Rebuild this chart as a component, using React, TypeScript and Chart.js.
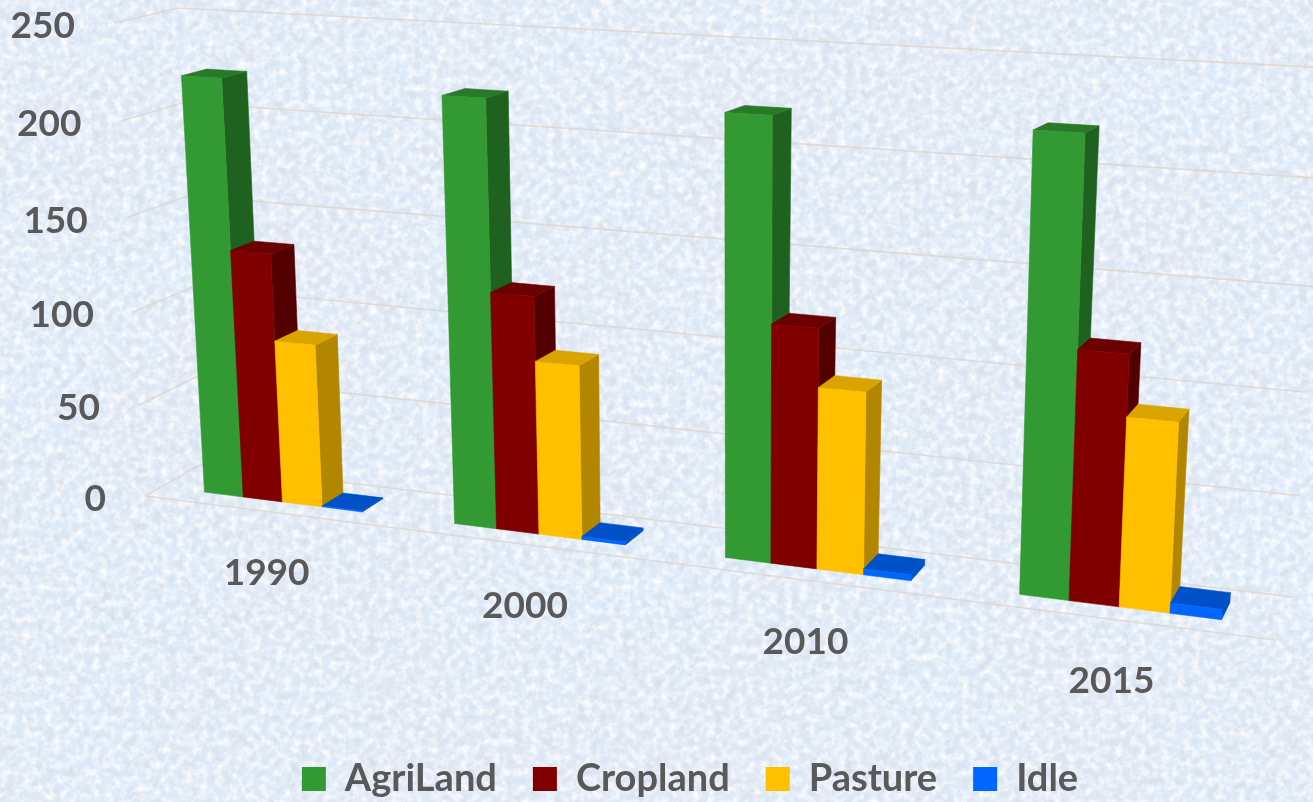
import React, { useEffect, useRef } from "react";
import { Chart, registerables } from "chart.js";

Chart.register(...registerables);

const years = ["1990", "2000", "2010", "2015"];
const agriLand = [222, 220, 220, 220.5];
const cropland = [133, 123, 120, 121];
const pasture = [87, 90, 91, 91.5];
const idle = [0.5, 1.5, 3, 5];
const axisMax = 250;
const axisStep = 50;

const seriesNames = ["AgriLand", "Cropland", "Pasture", "Idle"];
const frontColors = ["#339933", "#800000", "#FFC000", "#0066FF"];
const sideColors = ["#1F611F", "#520000", "#B38600", "#0050C8"];
const topColors = ["#287A28", "#6B0000", "#D9A300", "#0050C8"];
const textColor = "#595959";
const gridColor = "rgba(222,212,204,0.8)";
const fontFamily = "Lato, 'Open Sans', sans-serif";

type Pt = [number, number];
function homography(p0: Pt, p1: Pt, p2: Pt, p3: Pt) {
  const dx1 = p1[0] - p2[0], dx2 = p3[0] - p2[0], sx = p0[0] - p1[0] + p2[0] - p3[0];
  const dy1 = p1[1] - p2[1], dy2 = p3[1] - p2[1], sy = p0[1] - p1[1] + p2[1] - p3[1];
  const det = dx1 * dy2 - dx2 * dy1;
  const g = (sx * dy2 - dx2 * sy) / det;
  const h = (dx1 * sy - sx * dy1) / det;
  const a = p1[0] - p0[0] + g * p1[0], b = p3[0] - p0[0] + h * p3[0], c = p0[0];
  const d = p1[1] - p0[1] + g * p1[1], e = p3[1] - p0[1] + h * p3[1], f = p0[1];
  return (s: number, t: number): Pt => {
    const w = g * s + h * t + 1;
    return [(a * s + b * t + c) / w, (d * s + e * t + f) / w];
  };
}

// Perspective view: the flat scales of the chart are mapped on to a front and a back plane.
const frontPlane = homography([145, 496], [1275, 640], [1304, 83], [114, 23]);
const backPlane = homography([200, 465], [1293, 597], [1329, 68], [179, 8]);
const project = (s: number, t: number, depth: number): Pt => {
  const a = frontPlane(s, t), b = backPlane(s, t);
  return [a[0] + (b[0] - a[0]) * depth, a[1] + (b[1] - a[1]) * depth];
};
const barDepthFront = 0.3;
const barDepthBack = 0.7;

function poly(ctx: CanvasRenderingContext2D, pts: Pt[], color: string) {
  ctx.beginPath();
  pts.forEach((p, i) => (i ? ctx.lineTo(p[0], p[1]) : ctx.moveTo(p[0], p[1])));
  ctx.closePath();
  ctx.fillStyle = color;
  ctx.strokeStyle = color;
  ctx.lineWidth = 0.6;
  ctx.fill();
  ctx.stroke();
}

const perspectivePlugin = {
  id: "perspective",
  afterLayout(chart: any) {
    // the legend sits a little lower than its default box allows
    chart.legend.top += 6;
    chart.legend.bottom += 6;
  },
  beforeDatasetsDraw(chart: any) {
    const ctx: CanvasRenderingContext2D = chart.ctx;
    const area = chart.chartArea;
    const yScale = chart.scales.y;
    const toS = (px: number) => (px - area.left) / area.width;
    const toT = (py: number) => (area.bottom - py) / area.height;

    ctx.save();
    // gridlines
    ctx.strokeStyle = gridColor;
    ctx.lineWidth = 1.6;
    yScale.ticks.forEach((tick: any) => {
      const t = toT(yScale.getPixelForValue(tick.value));
      const a = project(0, t, 0), b = project(0, t, 1), c = project(1, t, 1);
      ctx.beginPath();
      ctx.moveTo(a[0], a[1]);
      ctx.lineTo(b[0], b[1]);
      ctx.lineTo(c[0], c[1]);
      ctx.stroke();
    });
    const f0 = project(0, 0, 0), f1 = project(1, 0, 0);
    ctx.beginPath();
    ctx.moveTo(f0[0], f0[1]);
    ctx.lineTo(f1[0], f1[1]);
    ctx.stroke();

    // value labels
    ctx.fillStyle = textColor;
    ctx.font = `700 37px ${fontFamily}`;
    ctx.textAlign = "right";
    ctx.textBaseline = "middle";
    yScale.ticks.forEach((tick: any) => {
      const t = toT(yScale.getPixelForValue(tick.value));
      const p = project(0, t, 0);
      ctx.fillText(String(tick.value), p[0] - 39, p[1] + 3);
    });

    // category labels
    ctx.textAlign = "center";
    chart.data.labels.forEach((label: string, i: number) => {
      const px = chart.scales.x.getPixelForValue(i);
      const p = project(toS(px), 0, 0);
      ctx.fillText(label, p[0], p[1] + 62);
    });

    // bars, far series first in each group
    chart.data.labels.forEach((_: string, j: number) => {
      chart.data.datasets.forEach((_d: any, i: number) => {
        const bar = chart.getDatasetMeta(i).data[j];
        const s0 = toS(bar.x - bar.width / 2);
        const s1 = toS(bar.x + bar.width / 2);
        const t0 = toT(bar.base);
        const t1 = toT(bar.y);
        const A = project(s0, t1, barDepthFront), B = project(s1, t1, barDepthFront);
        const C = project(s1, t0, barDepthFront), D = project(s0, t0, barDepthFront);
        const E = project(s0, t1, barDepthBack), F = project(s1, t1, barDepthBack);
        const G = project(s1, t0, barDepthBack);
        poly(ctx, [B, F, G, C], sideColors[i]);
        poly(ctx, [A, E, F, B], topColors[i]);
        poly(ctx, [A, B, C, D], frontColors[i]);
      });
    });
    ctx.restore();
    return false;
  },
};

const textureSvg = `<svg xmlns="http://www.w3.org/2000/svg" width="1313" height="802">
<filter id="b" x="0" y="0" width="100%" height="100%"><feTurbulence type="fractalNoise" baseFrequency="0.006" numOctaves="2" seed="7"/>
<feColorMatrix values="0 0 0 0 0.70 0 0 0 0 0.84 0 0 0 0 0.98 1.4 0 0 0 -0.5"/></filter>
<filter id="n" x="0" y="0" width="100%" height="100%"><feTurbulence type="fractalNoise" baseFrequency="0.09" numOctaves="4" seed="3"/>
<feColorMatrix values="0 0 0 0 0.68 0 0 0 0 0.74 0 0 0 0 0.83 2.1 0 0 0 -0.85"/></filter>
<filter id="w" x="0" y="0" width="100%" height="100%"><feTurbulence type="fractalNoise" baseFrequency="0.13" numOctaves="3" seed="11"/>
<feColorMatrix values="0 0 0 0 1 0 0 0 0 1 0 0 0 0 1 0 2 0 0 -0.78"/></filter>
<rect width="1313" height="802" fill="#dfe9f6"/>
<rect width="1313" height="802" filter="url(#b)"/>
<rect width="1313" height="802" filter="url(#n)"/>
<rect width="1313" height="802" filter="url(#w)"/>
</svg>`;

export default function App() {
  const ref = useRef<HTMLCanvasElement>(null);
  useEffect(() => {
    document.body.style.margin = "0";
    document.body.style.overflow = "hidden";
    const seriesValues = [agriLand, cropland, pasture, idle];
    const chart = new Chart(ref.current!, {
      type: "bar",
      data: {
        labels: years,
        datasets: seriesNames.map((name, i) => ({
          label: name,
          data: seriesValues[i],
          backgroundColor: frontColors[i],
          borderWidth: 0,
          categoryPercentage: 0.64,
          barPercentage: 1,
        })),
      },
      plugins: [perspectivePlugin],
      options: {
        responsive: false,
        animation: false,
        layout: { padding: { left: 67, right: 0, top: 0, bottom: 0 } },
        scales: {
          x: { display: false },
          y: { display: false, min: 0, max: axisMax, ticks: { stepSize: axisStep } },
        },
        plugins: {
          tooltip: { enabled: false },
          title: { display: false },
          legend: {
            position: "bottom",
            labels: {
              boxWidth: 24,
              boxHeight: 24,
              padding: 36,
              color: textColor,
              font: { family: fontFamily, size: 38, weight: "bold" },
            },
          },
        },
      },
    } as any);
    return () => chart.destroy();
  }, []);
  return (
    <div
      style={{
        position: "absolute",
        left: 0,
        top: 0,
        width: 1313,
        height: 802,
        overflow: "hidden",
        backgroundImage: `url("data:image/svg+xml,${encodeURIComponent(textureSvg)}")`,
      }}
    >
      <canvas ref={ref} width={1313} height={802} style={{ display: "block", filter: "blur(0.5px)" }} />
    </div>
  );
}
